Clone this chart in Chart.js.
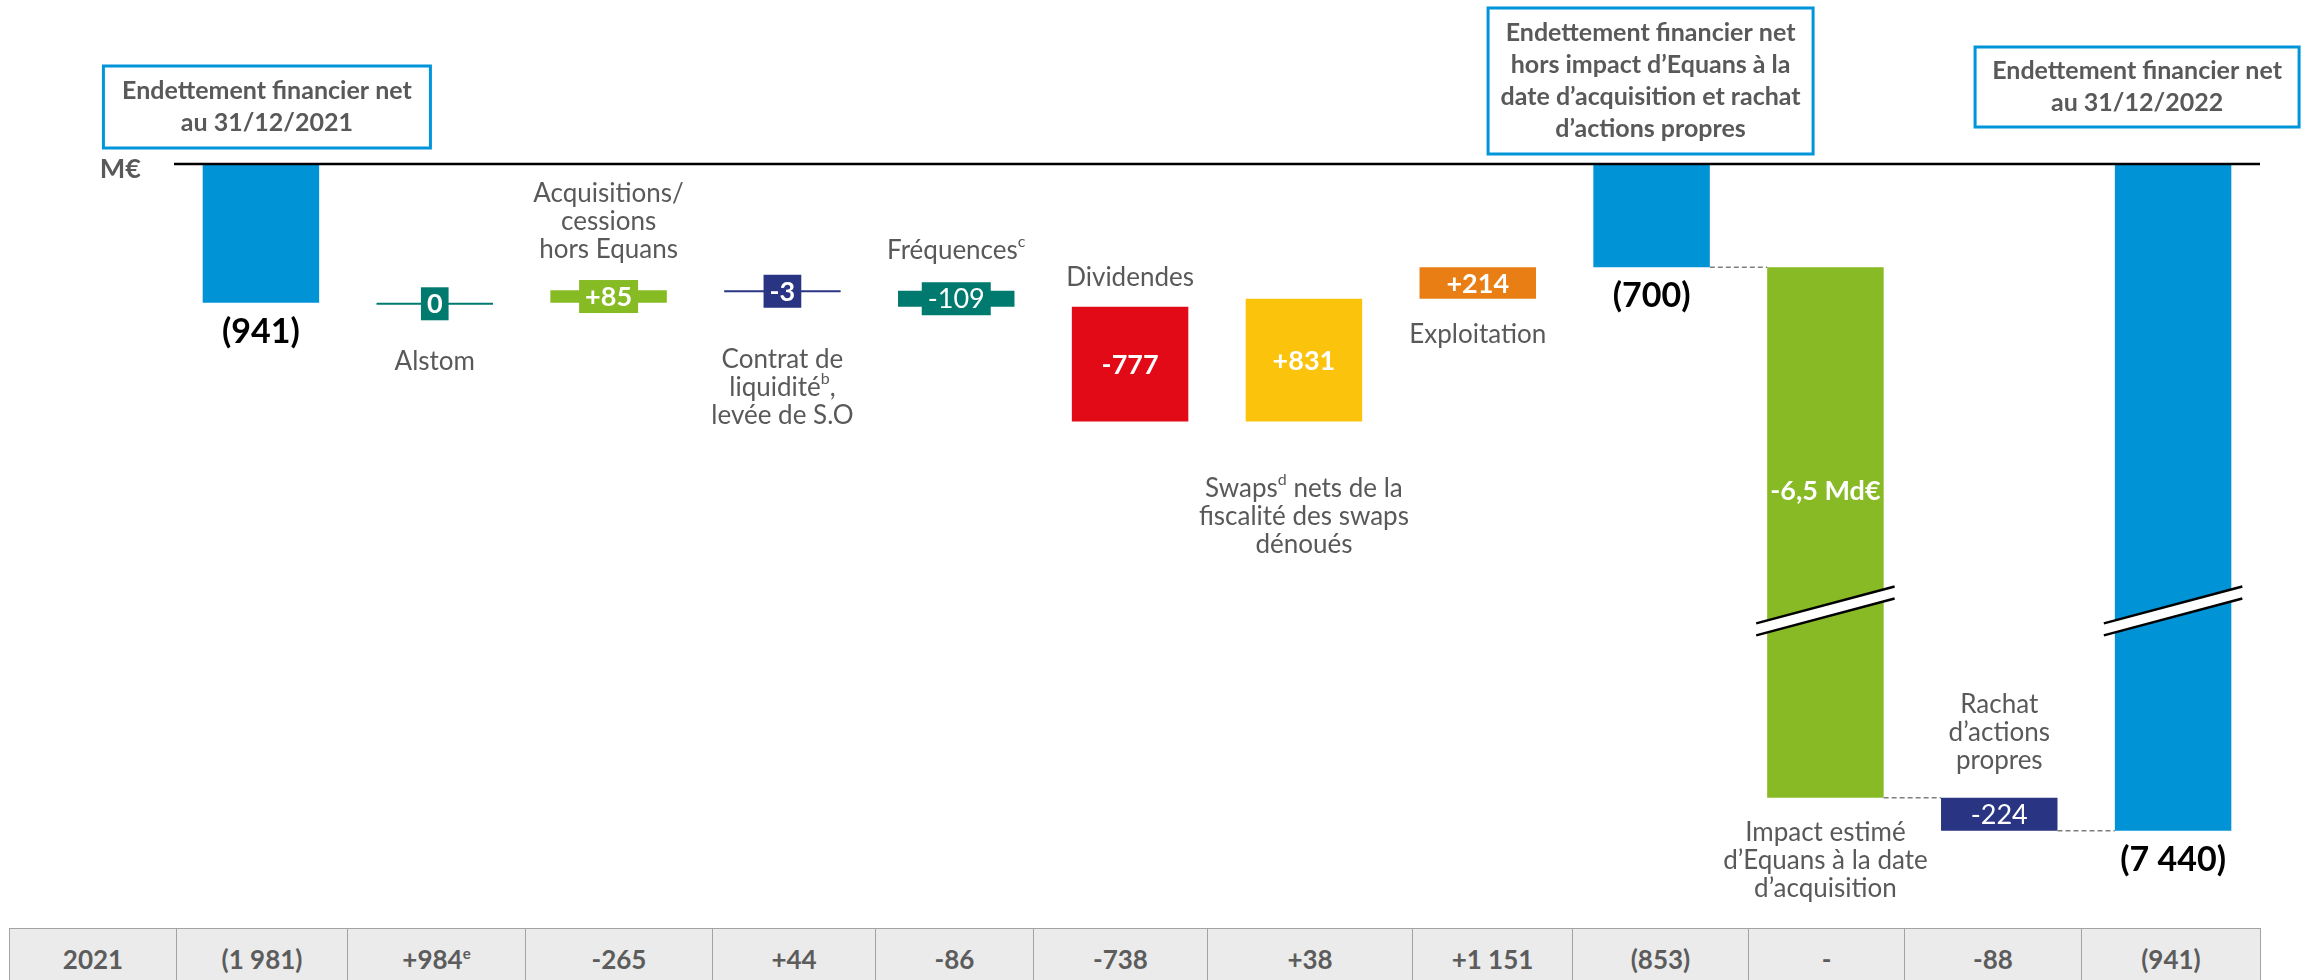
<!DOCTYPE html>
<html lang="fr">
<head>
<meta charset="utf-8">
<title>Endettement financier net 2021-2022</title>
<script src="https://cdn.jsdelivr.net/npm/chart.js"></script>
<style>
  html, body { margin: 0; padding: 0; background: #fff; }
  #wrap { position: relative; width: 2313px; height: 980px; overflow: hidden; }
  #table2021 {
    position: absolute; left: 9px; top: 928px; width: 2251px;
    border-collapse: collapse; table-layout: fixed;
    font-family: Lato, "Open Sans", sans-serif; font-weight: 700; font-size: 26px; color: #5c5c5c;
  }
  #table2021 td {
    background: #ebebeb; border: 1.5px solid #a3a3a3;
    height: 60px; padding: 0; text-align: center; vertical-align: middle;
  }
  #table2021 sup { font-size: 15px; }
</style>
</head>
<body>
<div id="wrap">
  <canvas id="bridge"></canvas>
  <table id="table2021"><colgroup id="cols"></colgroup><tr id="row2021"></tr></table>
</div>
<script>
// step names (one line per array entry, ^x = superscript)
const stepNames = [
  ['Endettement financier net', 'au 31/12/2021'],
  ['Alstom'],
  ['Acquisitions/', 'cessions', 'hors Equans'],
  ['Contrat de', 'liquidité^b,', 'levée de S.O'],
  ['Fréquences^c'],
  ['Dividendes'],
  ['Swaps^d nets de la', 'fiscalité des swaps', 'dénoués'],
  ['Exploitation'],
  ['Endettement financier net', 'hors impact d’Equans à la', 'date d’acquisition et rachat', 'd’actions propres'],
  ['Impact estimé', 'd’Equans à la date', 'd’acquisition'],
  ['Rachat', 'd’actions', 'propres'],
  ['Endettement financier net', 'au 31/12/2022']
];

// M€, subtotals are levels, the others are movements
const amounts = [-941, 0, 85, -3, -109, -777, 831, 214, -700, -6516, -224, -7440];
const isSubtotal = [true, false, false, false, false, false, false, false, true, false, false, true];
const amountLabels = ['(941)', '0', '+85', '-3', '-109', '-777', '+831', '+214', '(700)', '-6,5 Md€', '-224', '(7 440)'];

// comparison row for 2021
const rowTitle = '2021';
const row2021 = ['(1 981)', '+984^e', '-265', '+44', '-86', '-738', '+38', '+1 151', '(853)', '-', '-88', '(941)'];

const barColors = ['#0094d7', '#007a6f', '#86bb24', '#293583', '#007a6f', '#e20a17',
                   '#fbc30c', '#e87e14', '#0094d7', '#87ba24', '#293583', '#0094d7'];

// the y axis is cut between -3000 and -5920 M€
const axisBreak = -3000;
const cutSize = 2920;
const breakMark = -3030;
const toAxis = v => (v < axisBreak ? v + cutSize : v);

let running = 0;
const spans = amounts.map((v, i) => {
  if (isSubtotal[i]) { running = v; return [0, v]; }
  const s = [running, running + v];
  running += v;
  return s;
});

// table row
const colWidths = [167, 171, 178, 187, 163, 158, 174, 205, 160, 176, 156, 177, 179];
const cols = document.getElementById('cols');
const tr = document.getElementById('row2021');
[rowTitle].concat(row2021).forEach((t, i) => {
  const col = document.createElement('col');
  col.style.width = colWidths[i] + 'px';
  cols.appendChild(col);
  const td = document.createElement('td');
  td.innerHTML = t.replace(/\^(\w)/g, '<sup>$1</sup>');
  tr.appendChild(td);
});

const FONT = 'Lato, "Open Sans", sans-serif';
const GREY = '#595959';

function richText(ctx, text, cx, cy, size, weight, color) {
  const parts = text.split(/\^(\w)/);
  const supSize = Math.round(size * 0.6);
  let total = 0;
  const segs = parts.map((t, k) => {
    const sup = k % 2 === 1;
    ctx.font = `${weight} ${sup ? supSize : size}px ${FONT}`;
    const w = ctx.measureText(t).width;
    total += w;
    return { t, sup, w };
  });
  let x = cx - total / 2;
  ctx.fillStyle = color;
  ctx.textAlign = 'left';
  ctx.textBaseline = 'middle';
  segs.forEach(s => {
    ctx.font = `${weight} ${s.sup ? supSize : size}px ${FONT}`;
    ctx.fillText(s.t, x, s.sup ? cy - size * 0.33 : cy);
    x += s.w;
  });
  return total;
}

const decor = {
  id: 'decor',
  afterDatasetsDraw(chart, args, opts) {
    const ctx = chart.ctx;
    const area = chart.chartArea;
    const y = chart.scales.y;
    const geo = chart.getDatasetMeta(0).data.map(b => {
      const p = b.getProps(['x', 'y', 'base', 'width'], true);
      return { x: p.x, w: p.width, end: p.y, top: Math.min(p.y, p.base), bottom: Math.max(p.y, p.base) };
    });
    ctx.save();

    // baseline
    const y0 = y.getPixelForValue(0);
    ctx.strokeStyle = '#000';
    ctx.lineWidth = 2.5;
    ctx.beginPath();
    ctx.moveTo(area.left, y0);
    ctx.lineTo(area.right, y0);
    ctx.stroke();
    ctx.font = `700 27px ${FONT}`;
    ctx.fillStyle = GREY;
    ctx.textAlign = 'right';
    ctx.textBaseline = 'middle';
    ctx.fillText('M€', 141, y0 + 5);

    // dashed connectors
    ctx.strokeStyle = '#7f7f7f';
    ctx.lineWidth = 1.5;
    ctx.setLineDash([5, 3]);
    opts.connectors.forEach(i => {
      const a = geo[i], b = geo[i + 1];
      ctx.beginPath();
      ctx.moveTo(a.x + a.w / 2, a.end);
      ctx.lineTo(b.x - b.w / 2, a.end);
      ctx.stroke();
    });
    ctx.setLineDash([]);

    // axis break marks on bars crossing the cut
    const yb = y.getPixelForValue(breakMark);
    geo.forEach((g, i) => {
      const [s, e] = spans[i];
      if (!(s >= axisBreak && e < axisBreak)) return;
      const half = g.w / 2 + 11, slope = 0.267, gap = 6;
      ctx.fillStyle = '#fff';
      ctx.beginPath();
      ctx.moveTo(g.x - half, yb - gap + half * slope);
      ctx.lineTo(g.x + half, yb - gap - half * slope);
      ctx.lineTo(g.x + half, yb + gap - half * slope);
      ctx.lineTo(g.x - half, yb + gap + half * slope);
      ctx.closePath();
      ctx.fill();
      ctx.strokeStyle = '#000';
      ctx.lineWidth = 2.5;
      [-gap, gap].forEach(d => {
        ctx.beginPath();
        ctx.moveTo(g.x - half, yb + d + half * slope);
        ctx.lineTo(g.x + half, yb + d - half * slope);
        ctx.stroke();
      });
    });

    // value labels
    const edges = geo.map(g => ({ top: g.top, bottom: g.bottom }));
    geo.forEach((g, i) => {
      const mode = opts.valueMode[i];
      const weight = opts.valueWeight[i];
      const txt = amountLabels[i];
      if (mode === 'badge') {
        ctx.font = `${weight} 27px ${FONT}`;
        const w = Math.max(24, ctx.measureText(txt).width + 12);
        const cy = (g.top + g.bottom) / 2;
        ctx.fillStyle = barColors[i];
        ctx.fillRect(g.x - w / 2, cy - 16.5, w, 33);
        richText(ctx, txt, g.x, cy + 1, 27, weight, '#fff');
        edges[i] = { top: cy - 16.5, bottom: cy + 16.5 };
      } else if (mode === 'inside') {
        richText(ctx, txt, g.x, (g.top + g.bottom) / 2 + 1, 27, weight, '#fff');
      } else if (mode === 'upper') {
        richText(ctx, txt, g.x, g.top + (yb - g.top) * 0.653, 27, weight, '#fff');
      } else if (mode === 'total') {
        richText(ctx, txt, g.x, g.bottom + 29, 34, weight, '#000');
      }
    });

    // step names
    geo.forEach((g, i) => {
      const place = opts.namePlace[i];
      const lines = stepNames[i];
      if (place === 'box') {
        const b = opts.boxes[i];
        const bx = g.x + b.dx - b.w / 2;
        ctx.fillStyle = '#fff';
        ctx.fillRect(bx, b.top, b.w, b.h);
        ctx.strokeStyle = '#0095da';
        ctx.lineWidth = 3;
        ctx.strokeRect(bx, b.top, b.w, b.h);
        const mid = b.top + b.h / 2;
        lines.forEach((l, k) => {
          richText(ctx, l, bx + b.w / 2, mid + (k - (lines.length - 1) / 2) * 32, 25, 700, GREY);
        });
        return;
      }
      const [side, gap] = place;
      lines.forEach((l, k) => {
        const cy = side === 'below'
          ? edges[i].bottom + gap + k * 28
          : edges[i].top - gap - (lines.length - 1 - k) * 28;
        richText(ctx, l, g.x, cy, 26, 400, GREY);
      });
    });
    ctx.restore();
  }
};

new Chart(document.getElementById('bridge'), {
  type: 'bar',
  data: {
    labels: stepNames,
    datasets: [{
      data: spans.map(s => s.map(toAxis)),
      backgroundColor: barColors,
      borderWidth: 0,
      minBarLength: 2,
      barPercentage: 0.67,
      categoryPercentage: 1
    }]
  },
  options: {
    responsive: true,
    maintainAspectRatio: false,
    animation: false,
    layout: { padding: { top: 164, bottom: 80, left: 174, right: 53 } },
    scales: {
      x: { display: false, offset: true },
      y: { display: false, min: -4990, max: 0 }
    },
    plugins: {
      legend: { display: false },
      tooltip: { enabled: false },
      decor: {
        connectors: [8, 9, 10],
        valueMode: ['total', 'badge', 'badge', 'badge', 'badge', 'inside', 'inside', 'inside', 'total', 'upper', 'inside', 'total'],
        valueWeight: [700, 700, 700, 700, 400, 700, 700, 700, 700, 700, 400, 700],
        namePlace: ['box', ['below', 41], ['above', 30], ['below', 52], ['above', 32], ['above', 29],
                    ['below', 67], ['below', 36], 'box', ['below', 35], ['above', 37], 'box'],
        boxes: {
          0: { dx: 6, top: 66, w: 327, h: 82 },
          8: { dx: -1, top: 8, w: 325, h: 146 },
          11: { dx: -36, top: 47, w: 324, h: 80 }
        }
      }
    }
  },
  plugins: [decor]
});
</script>
</body>
</html>
